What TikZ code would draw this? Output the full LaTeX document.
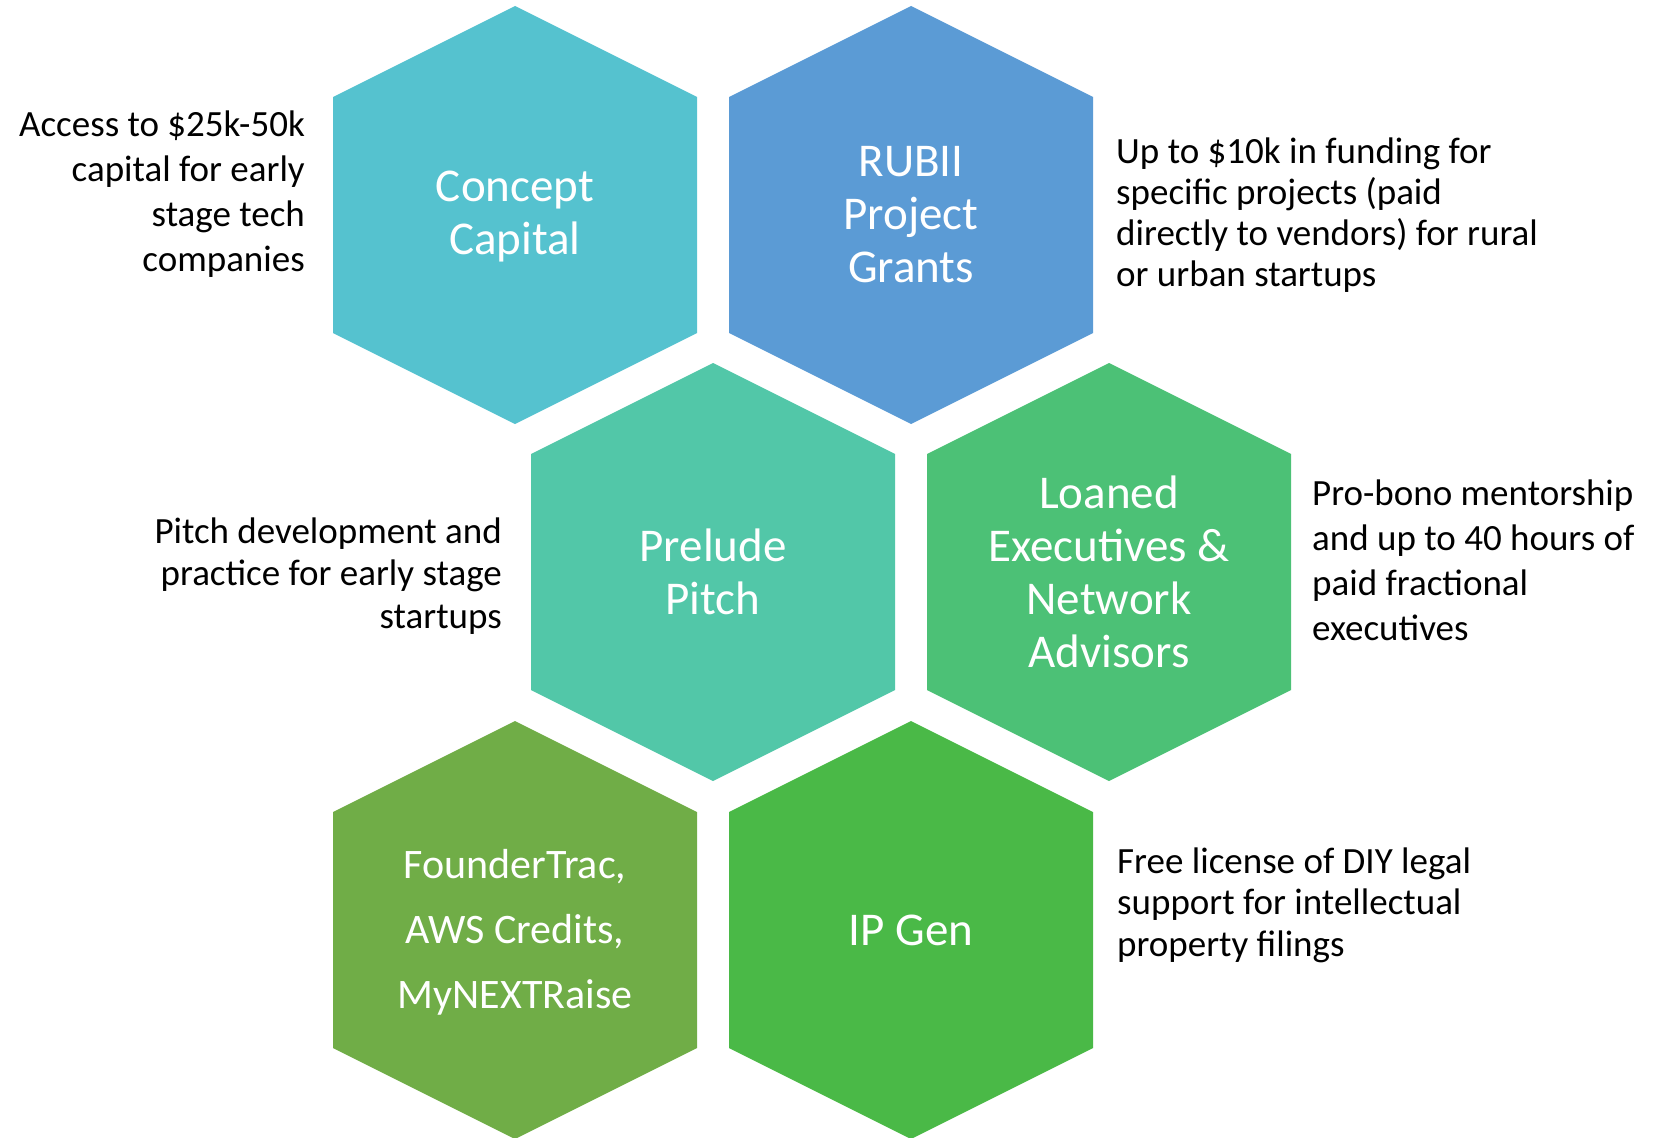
\documentclass[tikz,border=0pt]{standalone}
\usepackage{fontspec}
\setmainfont{Carlito}
\definecolor{hexA}{HTML}{55C2CF}
\definecolor{hexB}{HTML}{5B9BD5}
\definecolor{hexC}{HTML}{52C7A8}
\definecolor{hexD}{HTML}{4CC176}
\definecolor{hexE}{HTML}{70AD47}
\definecolor{hexF}{HTML}{4AB947}
\newcommand\hexshape[3]{\fill[#3] (#1,#2) ++(0,-209) -- ++(182,91) -- ++(0,236) -- ++(-182,91) -- ++(-182,-91) -- ++(0,-236) -- cycle;}
\begin{document}
\begin{tikzpicture}[x=1pt,y=-1pt,
  hexlabel/.style={text=white, align=center, inner sep=0pt, font=\fontsize{47}{53}\selectfont},
  sidetext/.style={text=black, inner sep=0pt}]
\useasboundingbox (0,0) rectangle (1656,1137);
\begin{scope}
\clip (0,0) rectangle (1656,1137);
\hexshape{515}{215}{hexA}
\hexshape{911}{215}{hexB}
\hexshape{713}{572}{hexC}
\hexshape{1109}{572}{hexD}
\hexshape{515}{930}{hexE}
\hexshape{911}{930}{hexF}
\end{scope}
\node[hexlabel] (cc) at (515,217) {Concept\\Capital};
\node[hexlabel] (rubii) at (911,215) {RUBII\\Project\\Grants};
\node[hexlabel] (pp) at (713,572) {Prelude\\Pitch};
\node[hexlabel] (le) at (1109,572) {Loaned\\Executives \&\\Network\\Advisors};
\node[hexlabel, font=\fontsize{42}{65}\selectfont] (ft) at (515,932) {FounderTrac,\\AWS Credits,\\MyNEXTRaise};
\node[hexlabel] (ip) at (911,930) {IP Gen};

\node[sidetext, anchor=base east, font=\fontsize{37}{45}\selectfont] (ccd) at (305,136)
  {\begin{tabular}[t]{@{}r@{}}Access to \$25k-50k\\capital for early\\stage tech\\companies\end{tabular}};
\node[sidetext, anchor=base west, font=\fontsize{37}{41.3}\selectfont] (rubiid) at (1116,163)
  {\begin{tabular}[t]{@{}l@{}}Up to \$10k in funding for\\specific projects (paid\\directly to vendors) for rural\\or urban startups\end{tabular}};
\node[sidetext, anchor=base east, font=\fontsize{37}{42.5}\selectfont] (ppd) at (502,543)
  {\begin{tabular}[t]{@{}r@{}}Pitch development and\\practice for early stage\\startups\end{tabular}};
\node[sidetext, anchor=base west, font=\fontsize{37}{45.3}\selectfont] (led) at (1312,505)
  {\begin{tabular}[t]{@{}l@{}}Pro-bono mentorship\\and up to 40 hours of\\paid fractional\\executives\end{tabular}};
\node[sidetext, anchor=base west, font=\fontsize{37}{41.5}\selectfont] (ipd) at (1117,873)
  {\begin{tabular}[t]{@{}l@{}}Free license of DIY legal\\support for intellectual\\property filings\end{tabular}};
\end{tikzpicture}
\end{document}
